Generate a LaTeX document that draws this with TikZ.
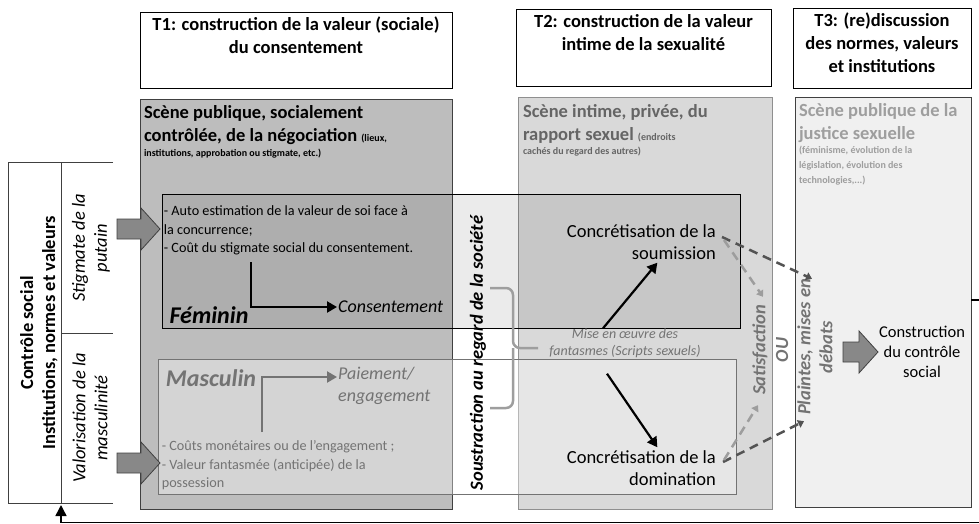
\documentclass[tikz,border=0pt]{standalone}
\usepackage{fontspec}
\setmainfont{Carlito}
\usepackage{xcolor}
\usepackage{tikz}
\usetikzlibrary{calc,positioning,arrows.meta}

\definecolor{scA}{gray}{0.74}
\definecolor{scB}{gray}{0.85}
\definecolor{scC}{gray}{0.94}
\definecolor{dk}{gray}{0.25}
\definecolor{md}{gray}{0.45}
\definecolor{lt}{gray}{0.62}

\newcommand{\notefont}{\fontsize{10}{12}\selectfont}

\tikzset{
    frame/.style={draw, inner sep=0pt},
    ttl/.style={font=\fontsize{18.5}{23}\selectfont\bfseries, align=center, inner sep=0pt},
    hd/.style={font=\fontsize{18.5}{23}\selectfont\bfseries, align=left, anchor=north west, inner sep=0pt},
    nt/.style={font=\fontsize{10}{15}\selectfont\bfseries, align=left, inner sep=0pt},
    body/.style={font=\fontsize{14.2}{18.5}\selectfont, align=left, inner sep=0pt},
    sexe/.style={font=\fontsize{24}{28}\selectfont\bfseries\itshape, inner sep=0pt},
    itl/.style={font=\fontsize{18}{21.5}\selectfont\itshape, inner sep=1pt},
    vlab/.style={font=\fontsize{18.5}{22}\selectfont, rotate=90, align=center, inner sep=0pt},
    gbi/.style={font=\fontsize{18.5}{22}\selectfont\bfseries\itshape, text=md, rotate=90, align=center, inner sep=0pt},
    conc/.style={font=\fontsize{18.5}{22}\selectfont, align=right, inner sep=0pt},
    mise/.style={font=\fontsize{14}{17}\selectfont\itshape, text=md, align=center, inner sep=0pt},
    cst/.style={font=\fontsize{16.5}{20}\selectfont, align=center, inner sep=0pt},
    solid arr/.style={line width=2.2pt, -{Triangle[length=10pt,width=11pt]}},
    dash arr/.style={line width=2.5pt, dash pattern=on 9pt off 6pt, -{Triangle[length=6pt,width=8pt]}},
    brc/.style={draw=lt, line width=2.5pt, rounded corners=7pt},
    blk/.pic={
        \draw[fill=md!85, draw=dk, line width=0.8pt] (0,0) -- (-19,-21) -- (-19,-10) -- (-#1,-10)
            -- (-#1,10) -- (-19,10) -- (-19,21) -- cycle;
    }
}

\begin{document}
\begin{tikzpicture}[x=1pt,y=-1pt]
    \useasboundingbox (0,0) rectangle (979,524);
    \clip (0,0) rectangle (979,524);

    % scenes
    \node[frame, fill=scA, draw=dk, minimum width=312, minimum height=410] (s1) at (296,304) {};
    \node[frame, fill=scB, draw=md!80, minimum width=254, minimum height=412] (s2) at (645,303) {};
    \node[frame, fill=scC, draw=dk, minimum width=176, minimum height=410] (s3) at (883,302) {};

    % times
    \node[frame, fill=white, minimum width=312, minimum height=76] (t1) at (296,50) {};
    \node[frame, fill=white, minimum width=255, minimum height=77] (t2) at (643.5,47.5) {};
    \node[frame, fill=white, minimum width=178, minimum height=80] (t3) at (882,48) {};
    \node[ttl, below=5pt of t1.north] {T1: construction de la valeur (sociale)\\du consentement};
    \node[ttl, below=5pt of t2.north] {T2: construction de la valeur\\intime de la sexualité};
    \node[ttl, below=5pt of t3.north] {T3: (re)discussion\\des normes, valeurs\\et institutions};

    \node[hd] (h1) at ($(s1.north west)+(4,7)$) {Scène publique, socialement\\contrôlée, de la négociation {\notefont (lieux,}};
    \node[nt, below=4pt of h1.south west, anchor=north west] {institutions, approbation ou stigmate, etc.)};
    \node[hd, text=md!110] (h2) at ($(s2.north west)+(5,7)$) {Scène intime, privée, du\\rapport sexuel {\notefont (endroits}};
    \node[nt, text=md!110, below=4pt of h2.south west, anchor=north west] {cachés du regard des autres)};
    \node[hd, text=lt] (h3) at ($(s3.north west)+(4,7)$) {Scène publique de la\\justice sexuelle};
    \node[nt, text=lt, below=3pt of h3.south west, anchor=north west] {(féminisme, évolution de la\\législation, évolution des\\technologies,...)};

    % feminin / masculin
    \node[frame, draw=black, line width=0.6pt, fill=black, fill opacity=0.08, minimum width=578, minimum height=134] (fem) at (451,261) {};
    \node[frame, draw=md, line width=0.8pt, fill=white, fill opacity=0.35, minimum width=578, minimum height=135] (mas) at (447,426.5) {};

    \node[body, anchor=north west] (fa) at ($(fem.north west)+(2,12)$) {- Auto estimation de la valeur de soi face à\\la concurrence;\\- Coût du stigmate social du consentement.};
    \node[sexe] (fe) at (209,315) {Féminin};
    \node[itl, anchor=west] (cons) at (337,307) {Consentement};
    \coordinate (fk) at (251,262);
    \draw[solid arr] (fk) |- (cons.west);

    \node[sexe, text=md] (ma) at (211,378) {Masculin};
    \node[itl, text=md, anchor=north west, align=left] (pay) at (337,366) {Paiement/\\engagement};
    \node[body, text=md, anchor=south west] (mb) at ($(mas.south west)+(4,-4)$) {- Coûts monétaires ou de l’engagement ;\\- Valeur fantasmée (anticipée) de la\\possession};
    \coordinate (mk) at (262,432);
    \draw[solid arr, draw=md] (mk) |- ($(pay.north west)+(0,11)$);

    % controle social
    \draw[dk, line width=0.8pt] (113,162) -- (8,162) -- (8,503) -- (113,503);
    \draw[dk, line width=0.8pt] (61,162) -- (61,503);
    \draw[dk, line width=0.8pt] (61,333) -- (113,333);
    \node[vlab, font=\fontsize{18.5}{22}\selectfont\bfseries] (ctl) at (39,333) {Contrôle social\\Institutions, normes et valeurs};
    \node[vlab, font=\fontsize{18.5}{22}\selectfont\itshape] (stg) at (91,248) {Stigmate de la\\putain};
    \node[vlab, font=\fontsize{18.5}{22}\selectfont\itshape] (val) at (90,418) {Valorisation de la\\masculinité};
    \pic at (160,229) {blk=43};
    \pic at (160,463) {blk=43};

    \node[vlab, font=\fontsize{18.5}{22}\selectfont\bfseries\itshape] (sous) at (478,353) {Soustraction au regard de la société};

    % scripts
    \node[mise] (mise) at (625,343) {Mise en œuvre des\\fantasmes (Scripts sexuels)};
    \coordinate (bt) at (490,288);
    \coordinate (bb) at (490,408);
    \coordinate (bp) at (538,348);
    \draw[brc] (bt) -- (513,288) -- (513,348) -- (bp);
    \draw[brc] (bb) -- (513,408) -- (513,348);

    \node[conc, anchor=east] (soum) at (716,242) {Concrétisation de la\\soumission};
    \node[conc, anchor=east] (dom) at (716,468) {Concrétisation de la\\domination};
    \draw[solid arr] ($(mise.north)+(-22,0)$) -- ($(soum.south)+(16,3)$);
    \draw[solid arr] ($(mise.south)+(-18,16)$) -- ($(dom.north)+(16,-3)$);

    % issues
    \node[gbi] (sat) at (760,350) {Satisfaction};
    \node[gbi] (ou) at (782,350) {OU};
    \node[gbi] (plt) at (815,347) {Plaintes, mises en\\débats};
    \draw[dash arr, draw=dk!90] ($(soum.east)+(6,-5)$) -- ($(plt.east)+(-3,0)$);
    \draw[dash arr, draw=md!70] ($(soum.east)+(8,-2)$) -- ($(sat.east)+(3,-8)$);
    \draw[dash arr, draw=dk!90] ($(dom.east)+(7,-6)$) -- ($(plt.west)+(-11,6)$);
    \draw[dash arr, draw=md!70] ($(dom.east)+(8,-8)$) -- ($(sat.west)+(-2,10)$);

    \pic at (878,352) {blk=35};
    \node[cst] (cc) at (922,352) {Construction\\du contrôle\\social};

    % retour
    \coordinate (fbin) at (61,505);
    \draw[line width=1.5pt, -{Triangle[length=11pt,width=11pt]}] ($(s3.east)+(0,-2)$) -- ++(30,0) |- (61,522.5) -- (fbin);
\end{tikzpicture}
\end{document}
